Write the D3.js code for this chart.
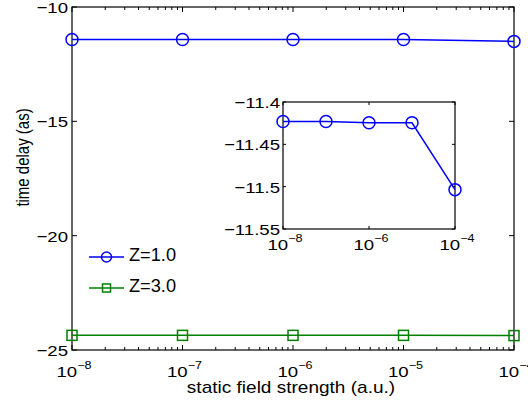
<!DOCTYPE html>
<html><head><meta charset="utf-8">
<script src="https://cdn.jsdelivr.net/npm/d3@7"></script>
<style>body{margin:0;background:#fff}svg{display:block;font-family:"Liberation Sans",Arial,sans-serif}</style>
</head><body><svg id="c" width="528" height="406"></svg>
<script>
const fields = [1e-8, 1e-7, 1e-6, 1e-5, 1e-4];
const z1 = [-11.423, -11.423, -11.4245, -11.4245, -11.5035];
const z3 = [-24.36, -24.36, -24.36, -24.36, -24.37];
const seriesNames = ["Z=1.0", "Z=3.0"];
const mainYTicks = [-10, -15, -20, -25];
const mainXTicks = [1e-8, 1e-7, 1e-6, 1e-5, 1e-4];
const insetYTicks = [-11.4, -11.45, -11.5, -11.55];
const insetXTicks = [1e-8, 1e-6, 1e-4];

const svg = d3.select("#c");
const blue = "#0000ff", green = "#008000";
const minus = s => String(s).replace("-", "\u2212");

function txt(g, x, y, s, size, anchor, sx) {
  return g.append("text").attr("transform", `translate(${x},${y}) scale(${sx || 1},1)`)
    .attr("text-anchor", anchor || "start").attr("font-size", size).attr("fill", "#000").text(s);
}
function logLabel(g, v, x, y) {
  const e = Math.round(Math.log10(v));
  const t = g.append("text").attr("transform", `translate(${x},${y}) scale(1.2,1)`).attr("text-anchor", "middle")
    .attr("font-size", 15.5).attr("fill", "#000");
  t.append("tspan").text("10");
  t.append("tspan").attr("dy", -8).attr("font-size", 10.5).text("\u2212" + Math.abs(e));
}

// main axes
const M = {l: 72, r: 514, t: 7, b: 350};
const x = d3.scaleLog().domain([1e-8, 1e-4]).range([M.l, M.r]);
const y = d3.scaleLinear().domain([-25, -10]).range([M.b, M.t]);
const g = svg.append("g");

const minor = [];
for (let d = -8; d < -4; d++) for (let k = 2; k <= 9; k++) minor.push(k * Math.pow(10, d));
minor.forEach(v => {
  g.append("line").attr("x1", x(v)).attr("x2", x(v)).attr("y1", M.b).attr("y2", M.b - 3).attr("stroke", "#000");
  g.append("line").attr("x1", x(v)).attr("x2", x(v)).attr("y1", M.t).attr("y2", M.t + 3).attr("stroke", "#000");
});
mainXTicks.forEach(v => {
  g.append("line").attr("x1", x(v)).attr("x2", x(v)).attr("y1", M.b).attr("y2", M.b - 5).attr("stroke", "#000");
  g.append("line").attr("x1", x(v)).attr("x2", x(v)).attr("y1", M.t).attr("y2", M.t + 5).attr("stroke", "#000");
  logLabel(g, v, x(v) + 2, 377);
});
mainYTicks.forEach(v => {
  g.append("line").attr("x1", M.l).attr("x2", M.l + 5).attr("y1", y(v)).attr("y2", y(v)).attr("stroke", "#000");
  g.append("line").attr("x1", M.r).attr("x2", M.r - 5).attr("y1", y(v)).attr("y2", y(v)).attr("stroke", "#000");
  txt(g, M.l - 4, y(v) + 6, minus(v), 15.5, "end", 1.2);
});
g.append("rect").attr("x", M.l).attr("y", M.t).attr("width", M.r - M.l).attr("height", M.b - M.t)
  .attr("fill", "none").attr("stroke", "#000").attr("stroke-width", 1.2);

txt(g, 291, 393, "static field strength (a.u.)", 17, "middle", 1.12);
g.append("text").attr("transform", `translate(29,${(M.t + M.b) / 2 - 21}) rotate(-90) scale(1,1.2)`).attr("text-anchor", "middle")
  .attr("font-size", 15).text("time delay (as)");

const line = d3.line().x((d, i) => x(fields[i])).y(d => y(d));
g.append("path").datum(z1).attr("d", line).attr("fill", "none").attr("stroke", blue).attr("stroke-width", 1.5);
g.selectAll(".c1").data(z1).enter().append("circle").attr("cx", (d, i) => x(fields[i])).attr("cy", d => y(d))
  .attr("r", 6).attr("fill", "none").attr("stroke", blue).attr("stroke-width", 1.5);
g.append("path").datum(z3).attr("d", line).attr("fill", "none").attr("stroke", green).attr("stroke-width", 1.5);
g.selectAll(".s3").data(z3).enter().append("rect").attr("x", (d, i) => x(fields[i]) - 5).attr("y", d => y(d) - 5)
  .attr("width", 10).attr("height", 10).attr("fill", "none").attr("stroke", green).attr("stroke-width", 1.5);

// legend
const lg = svg.append("g");
[[blue, 257], [green, 288]].forEach(([c, ly], i) => {
  lg.append("line").attr("x1", 89).attr("x2", 124).attr("y1", ly).attr("y2", ly).attr("stroke", c).attr("stroke-width", 1.5);
  if (i === 0) lg.append("circle").attr("cx", 106.5).attr("cy", ly).attr("r", 5).attr("fill", "none").attr("stroke", c).attr("stroke-width", 1.5);
  else lg.append("rect").attr("x", 102.5).attr("y", ly - 4).attr("width", 8).attr("height", 8).attr("fill", "none").attr("stroke", c).attr("stroke-width", 1.5);
  txt(lg, 129, ly + 4, seriesNames[i], 17.5, "start", 1.04);
});

// inset
const I = {l: 283, r: 455, t: 102, b: 229};
const xi = d3.scaleLog().domain([1e-8, 1e-4]).range([I.l, I.r]);
const yi = d3.scaleLinear().domain([-11.55, -11.4]).range([I.b, I.t]);
const ig = svg.append("g");
ig.append("rect").attr("x", I.l).attr("y", I.t).attr("width", I.r - I.l).attr("height", I.b - I.t)
  .attr("fill", "#fff").attr("stroke", "#000").attr("stroke-width", 1.2);
insetXTicks.forEach(v => {
  ig.append("line").attr("x1", xi(v)).attr("x2", xi(v)).attr("y1", I.b).attr("y2", I.b - 3).attr("stroke", "#000");
  ig.append("line").attr("x1", xi(v)).attr("x2", xi(v)).attr("y1", I.t).attr("y2", I.t + 3).attr("stroke", "#000");
  logLabel(ig, v, xi(v) + 2, 250);
});
insetYTicks.forEach(v => {
  ig.append("line").attr("x1", I.l).attr("x2", I.l + 3).attr("y1", yi(v)).attr("y2", yi(v)).attr("stroke", "#000");
  ig.append("line").attr("x1", I.r).attr("x2", I.r - 3).attr("y1", yi(v)).attr("y2", yi(v)).attr("stroke", "#000");
  txt(ig, I.l - 3, yi(v) + 6, minus(v), 15.5, "end", 1.2);
});
const linei = d3.line().x((d, i) => xi(fields[i])).y(d => yi(d));
ig.append("path").datum(z1).attr("d", linei).attr("fill", "none").attr("stroke", blue).attr("stroke-width", 1.5);
ig.selectAll(".ci").data(z1).enter().append("circle").attr("cx", (d, i) => xi(fields[i])).attr("cy", d => yi(d))
  .attr("r", 6).attr("fill", "none").attr("stroke", blue).attr("stroke-width", 1.5);
</script></body></html>
